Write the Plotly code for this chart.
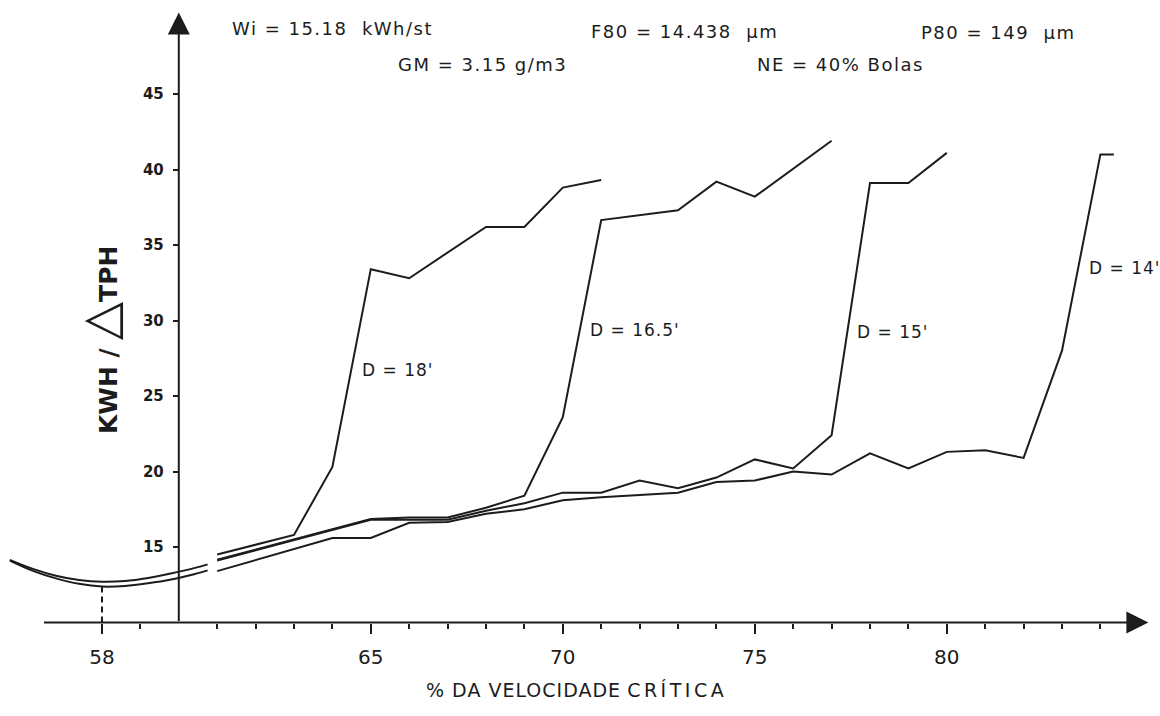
import plotly.graph_objects as go

# ---------------- data ----------------
x_tick_vals = [58, 65, 70, 75, 80]
x_tick_text = ["58", "65", "70", "75", "80"]
x_minor_vals = [59, 61, 62, 63, 64, 66, 67, 68, 69, 71, 72, 73, 74,
                76, 77, 78, 79, 81, 82, 83, 84]
y_tick_vals = [15, 20, 25, 30, 35, 40, 45]
y_tick_text = ["15", "20", "25", "30", "35", "40", "45"]

# common low-speed part (left of the axis break), two parallel curves
left_x = [55.6, 56.2, 56.8, 57.4, 58.0, 58.6, 59.2, 59.8, 60.4, 60.75]
left_upper = [14.15, 13.55, 13.1, 12.82, 12.7, 12.75, 12.95, 13.25, 13.6, 13.85]
left_lower = [14.1, 13.42, 12.92, 12.56, 12.38, 12.42, 12.6, 12.85, 13.2, 13.45]

d18_x = [61, 63, 64, 65, 66, 68, 69, 70, 71]
d18_y = [14.5, 15.8, 20.3, 33.4, 32.8, 36.2, 36.2, 38.8, 39.3]

d165_x = [61, 65, 66, 67, 68, 69, 70, 71, 73, 74, 75, 77]
d165_y = [14.15, 16.85, 16.95, 16.95, 17.6, 18.4, 23.6, 36.65, 37.3, 39.2, 38.2, 41.9]

d15_x = [61, 65, 66, 67, 68, 69, 70, 71, 72, 73, 74, 75, 76, 77, 78, 79, 80]
d15_y = [14.1, 16.8, 16.8, 16.8, 17.4, 17.9, 18.6, 18.6, 19.4, 18.9, 19.6, 20.8,
         20.2, 22.4, 39.1, 39.1, 41.1]

d14_x = [61, 64, 65, 66, 67, 68, 69, 70, 71, 73, 74, 75, 76, 77, 78, 79, 80,
         81, 82, 83, 84, 84.35]
d14_y = [13.4, 15.6, 15.6, 16.6, 16.65, 17.2, 17.5, 18.1, 18.3, 18.6, 19.3, 19.4,
         20.0, 19.8, 21.2, 20.2, 21.3, 21.4, 20.9, 28.0, 41.0, 41.0]

curve_labels = ["D = 18'", "D = 16.5'", "D = 15'", "D = 14'"]
label_pos_x = [64.72, 70.66, 77.61, 83.65]
label_pos_y = [26.7, 29.4, 29.25, 33.5]

# ---------------- figure ----------------
INK = "#1c1c1c"
FONT = "DejaVu Sans"
X_RANGE = [55.344, 85.552]
Y_RANGE = [3.808, 51.225]
X_AXIS_AT = 10   # y value where the horizontal axis is drawn
Y_AXIS_AT = 60   # x value where the vertical axis is drawn

fig = go.Figure()
line = dict(color=INK, width=2)

fig.add_trace(go.Scatter(x=left_x, y=left_upper, mode="lines",
                         line=dict(color=INK, width=2, shape="spline")))
fig.add_trace(go.Scatter(x=left_x, y=left_lower, mode="lines",
                         line=dict(color=INK, width=2, shape="spline")))
for xs, ys in [(d18_x, d18_y), (d165_x, d165_y), (d15_x, d15_y), (d14_x, d14_y)]:
    fig.add_trace(go.Scatter(x=xs, y=ys, mode="lines", line=line))

# dashed marker at the minimum (58 %)
fig.add_trace(go.Scatter(x=[58, 58], y=[X_AXIS_AT, min(left_lower)], mode="lines",
                         line=dict(color=INK, width=2, dash="6px,4px")))

# axis lines with arrow heads
fig.add_annotation(x=85.25, y=X_AXIS_AT, ax=56.45, ay=X_AXIS_AT, axref="x", ayref="y",
                   xref="x", yref="y", text="", showarrow=True, arrowhead=2,
                   arrowsize=2.2, arrowwidth=2, arrowcolor=INK, standoff=0, startstandoff=0)
fig.add_annotation(x=Y_AXIS_AT, y=50.4, ax=Y_AXIS_AT, ay=X_AXIS_AT, axref="x", ayref="y",
                   xref="x", yref="y", text="", showarrow=True, arrowhead=2,
                   arrowsize=2.2, arrowwidth=2, arrowcolor=INK, standoff=0, startstandoff=0)

# curve labels
for t, lx, ly in zip(curve_labels, label_pos_x, label_pos_y):
    fig.add_annotation(x=lx, y=ly, xref="x", yref="y",
                       text="<span style='letter-spacing:1px'>" + t + "</span>",
                       showarrow=False, xanchor="left", yanchor="middle",
                       font=dict(family=FONT, size=17, color=INK))

# header texts
SP = "&nbsp;"
header = [
    ("Wi = 15.18" + SP * 2 + "kWh/st", 332, 28),
    ("F80 = 14.438" + SP * 2 + "µm", 684, 32),
    ("P80 = 149" + SP * 2 + "µm", 998, 33),
    ("GM = 3.15 g/m3", 482, 64),
    ("NE = 40% Bolas", 840, 64),
]
for t, px, py in header:
    fig.add_annotation(x=px / 1160, y=1 - py / 716, xref="paper", yref="paper",
                       text="<span style='letter-spacing:1.5px'>" + t + "</span>",
                       showarrow=False, xanchor="center", yanchor="middle",
                       font=dict(family=FONT, size=18, color=INK))

# axis titles
fig.add_annotation(x=100 / 1160, y=1 - 340 / 716, xref="paper", yref="paper",
                   text="<b>KWH /</b> <span style='font-size:50px'>△</span><b>TPH</b>",
                   textangle=-90, showarrow=False, xanchor="center", yanchor="middle",
                   font=dict(family=FONT, size=25, color=INK))
fig.add_annotation(x=576 / 1160, y=1 - 690 / 716, xref="paper", yref="paper",
                   text="<span style='letter-spacing:1px'>% DA VELOCIDADE</span>"
                        + SP + "<span style='letter-spacing:3.5px'>CRÍTICA</span>",
                   showarrow=False, xanchor="center", yanchor="middle",
                   font=dict(family=FONT, size=19, color=INK))

x_pos = (X_AXIS_AT - Y_RANGE[0]) / (Y_RANGE[1] - Y_RANGE[0])
y_pos = (Y_AXIS_AT - X_RANGE[0]) / (X_RANGE[1] - X_RANGE[0])

fig.update_layout(
    width=1160, height=716,
    margin=dict(l=0, r=0, t=0, b=0),
    paper_bgcolor="white", plot_bgcolor="white",
    showlegend=False,
    xaxis=dict(range=X_RANGE, domain=[0, 1], anchor="free", position=x_pos,
               showgrid=False, zeroline=False, showline=False,
               tickmode="array", tickvals=x_tick_vals, ticktext=x_tick_text,
               ticks="outside", ticklen=10, tickwidth=2, tickcolor=INK,
               ticklabelstandoff=6,
               tickfont=dict(family=FONT, size=20, color=INK),
               minor=dict(tickmode="array", tickvals=x_minor_vals, ticks="outside",
                          ticklen=5, tickwidth=2, tickcolor=INK, showgrid=False)),
    yaxis=dict(range=Y_RANGE, domain=[0, 1], anchor="free", position=y_pos,
               showgrid=False, zeroline=False, showline=False,
               tickmode="array", tickvals=y_tick_vals, ticktext=y_tick_text,
               ticks="outside", ticklen=6, tickwidth=2, tickcolor=INK,
               ticklabelstandoff=6,
               tickfont=dict(family=FONT, size=15, color=INK, weight="bold")),
)

fig.write_html("out.html",
               config={"displayModeBar": False},
               post_script="document.body.style.margin='0';"
                           "document.body.style.overflow='hidden';")
